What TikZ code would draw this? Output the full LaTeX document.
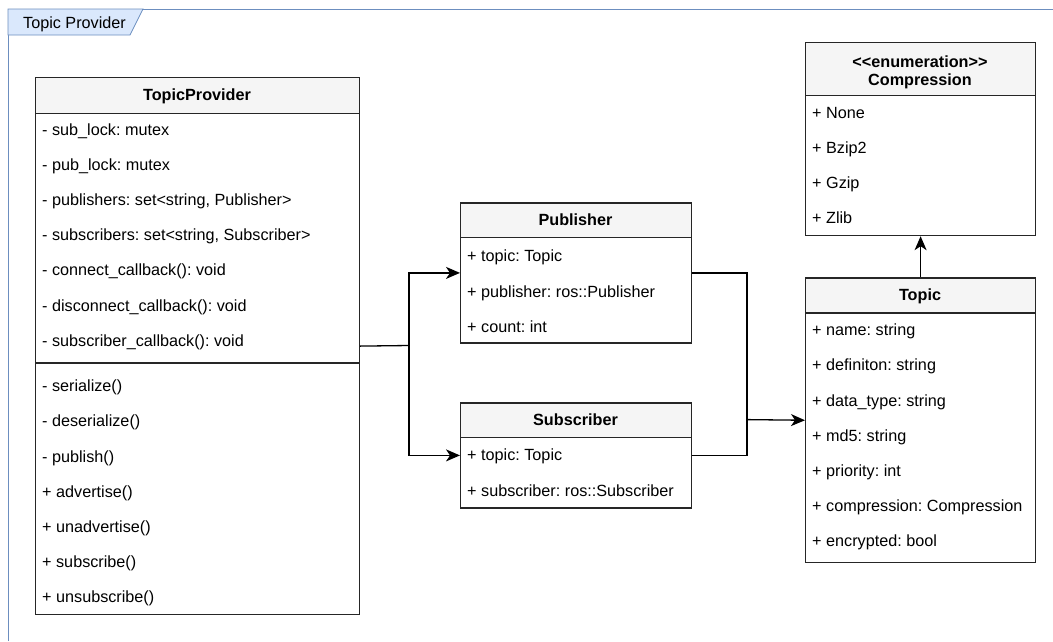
\documentclass[tikz,border=0pt]{standalone}
\usepackage{fontspec}
\setmainfont{Liberation Sans}
\usetikzlibrary{arrows.meta}
\definecolor{hdrfill}{HTML}{F5F5F5}
\definecolor{framefill}{HTML}{DAE8FC}
\definecolor{framedraw}{HTML}{6C8EBF}
\definecolor{ink}{HTML}{262626}
\frenchspacing
\begin{document}
\begin{tikzpicture}[x=1pt,y=-1pt,
  txt/.style={font=\fontsize{16.2}{19}\selectfont, inner sep=0pt, text=black},
  row/.style={txt, anchor=base west},
  title/.style={txt, font=\fontsize{16.2}{19}\selectfont\bfseries, anchor=base},
  classbox/.style={draw=ink, line width=1.2pt, fill=white, anchor=north west, inner sep=0pt},
  headbox/.style={classbox, fill=hdrfill},
  wire/.style={draw=black, line width=1.3pt},
  arr/.style={wire, -{Stealth[length=14pt,width=12pt,inset=4pt]}},
]
\useasboundingbox (0,0) rectangle (1053,641);

% package frame with its name tab
\draw[framedraw, line width=0.8pt] (8,641) -- (8,9) -- (1053,9);
\filldraw[fill=framefill, draw=framedraw, line width=0.8pt]
  (8,9) -- (143,9) -- (130,35) -- (8,35) -- cycle;
\node[row] (framelabel) at (23,28.5) {Topic Provider};

% ---------- TopicProvider ----------
\node[classbox, minimum width=324pt, minimum height=537pt] (tp) at (35,77) {};
\node[headbox, minimum width=324pt, minimum height=36pt] (tph) at (35,77) {};
\node[title] (tpt) at (197,100.5) {TopicProvider};
\draw[draw=ink, line width=1.2pt] (35,363) -- (359,363);
\foreach \t [count=\i from 0] in {
  {- sub\_lock: mutex},
  {- pub\_lock: mutex},
  {- publishers: set<string, Publisher>},
  {- subscribers: set<string, Subscriber>},
  {- connect\_callback(): void},
  {- disconnect\_callback(): void},
  {- subscriber\_callback(): void}}
  \node[row] (tpa\i) at (42,135.5+35.1*\i) {\t};
\foreach \t [count=\i from 0] in {
  {- serialize()},
  {- deserialize()},
  {- publish()},
  {+ advertise()},
  {+ unadvertise()},
  {+ subscribe()},
  {+ unsubscribe()}}
  \node[row] (tpm\i) at (42,391.7+35.15*\i) {\t};

% ---------- Publisher ----------
\node[classbox, minimum width=231pt, minimum height=140pt] (pub) at (460,202.3) {};
\node[headbox, minimum width=231pt, minimum height=34.4pt] (pubh) at (460,202.3) {};
\node[title] (pubt) at (575.5,225.5) {Publisher};
\foreach \t [count=\i from 0] in {
  {+ topic: Topic},
  {+ publisher: ros::Publisher},
  {+ count: int}}
  \node[row] (puba\i) at (467,261.7+35.3*\i) {\t};

% ---------- Subscriber ----------
\node[classbox, minimum width=231pt, minimum height=105pt] (sub) at (460,402.3) {};
\node[headbox, minimum width=231pt, minimum height=34.4pt] (subh) at (460,402.3) {};
\node[title] (subt) at (575.5,425.5) {Subscriber};
\foreach \t [count=\i from 0] in {
  {+ topic: Topic},
  {+ subscriber: ros::Subscriber}}
  \node[row] (suba\i) at (467,460+36*\i) {\t};

% ---------- Topic ----------
\node[classbox, minimum width=230pt, minimum height=284.7pt] (topic) at (805,277.3) {};
\node[headbox, minimum width=230pt, minimum height=35pt] (topich) at (805,277.3) {};
\node[title] (topict) at (920,300.5) {Topic};
\foreach \t [count=\i from 0] in {
  {+ name: string},
  {+ definiton: string},
  {+ data\_type: string},
  {+ md5: string},
  {+ priority: int},
  {+ compression: Compression},
  {+ encrypted: bool}}
  \node[row] (topica\i) at (812,335.7+35.2*\i) {\t};

% ---------- Compression ----------
\node[classbox, minimum width=230pt, minimum height=193pt] (comp) at (805,42) {};
\node[headbox, minimum width=230pt, minimum height=53pt] (comph) at (805,42) {};
\node[title] (compst) at (920,67.5) {<\kern0pt<enumeration>\kern0pt>};
\node[title] (compt) at (920,85.5) {Compression};
\foreach \t [count=\i from 0] in {
  {+ None},
  {+ Bzip2},
  {+ Gzip},
  {+ Zlib}}
  \node[row] (compa\i) at (812,118.3+35*\i) {\t};

% ---------- connectors ----------
\coordinate (j1) at (409,345.5);
\coordinate (j2) at (747,419.6);
\draw[wire] (tp.east) -- (j1);
\draw[arr] (j1) |- (pub.west);
\draw[arr] (j1) |- (sub.west);
\draw[wire] (pub.east) -| (j2);
\draw[wire] (sub.east) -| (j2);
\draw[arr] (j2) -- (topic.west);
\draw[arr] (topic.north) -- (comp.south);
\end{tikzpicture}
\end{document}
